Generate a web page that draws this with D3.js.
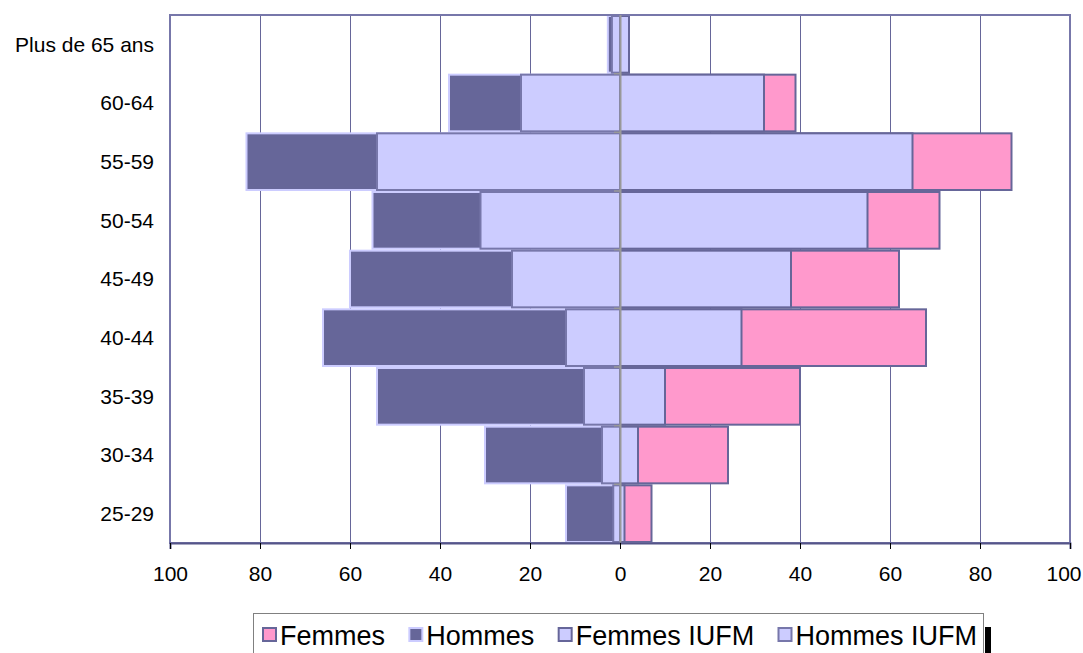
<!DOCTYPE html>
<html>
<head>
<meta charset="utf-8">
<script src="https://cdn.jsdelivr.net/npm/d3@7"></script>
<style>
  body { margin: 0; background: #fff; overflow: hidden; }
  text { font-family: "Liberation Sans", Arial, sans-serif; }
</style>
</head>
<body>
<div id="chart-area"></div>
<script>
var width = 1083,
    height = 653;

// age groups, bottom to top
var categories = ["25-29", "30-34", "35-39", "40-44", "45-49", "50-54", "55-59", "60-64", "Plus de 65 ans"];
var femmes     = [7, 24, 40, 68, 62, 71, 87, 39, 2];
var hommes     = [12, 30, 54, 66, 60, 55, 83, 38, 2.7];
var femmesIufm = [1, 4, 10, 27, 38, 55, 65, 32, 2];
var hommesIufm = [1.5, 4, 8, 12, 24, 31, 54, 22, 1.8];
var ticks = [-100, -80, -60, -40, -20, 0, 20, 40, 60, 80, 100];

var series = [
    { name: "Femmes",       values: femmes,     side: 1,  fill: "#ff99cc", stroke: "#666699" },
    { name: "Hommes",       values: hommes,     side: -1, fill: "#666699", stroke: "#ccccff" },
    { name: "Femmes IUFM",  values: femmesIufm, side: 1,  fill: "#ccccff", stroke: "#666699" },
    { name: "Hommes IUFM",  values: hommesIufm, side: -1, fill: "#ccccff", stroke: "#7777aa" }
];

var plotLeft = 170, plotRight = 1070, plotTop = 15, plotBottom = 543;

var x = d3.scaleLinear().domain([-100, 100]).range([plotLeft, plotRight]);
var y = d3.scaleBand().domain(categories.slice().reverse()).range([plotTop, plotBottom]).padding(0);

var svg = d3.select("#chart-area")
    .append("svg")
        .attr("width", width)
        .attr("height", height);

// vertical gridlines
svg.append("g")
    .selectAll("line")
    .data(ticks.filter(function(t) { return Math.abs(t) < 100; }))
    .enter().append("line")
        .attr("x1", function(d) { return x(d) + 0.5; })
        .attr("x2", function(d) { return x(d) + 0.5; })
        .attr("y1", plotTop)
        .attr("y2", plotBottom)
        .attr("stroke", "#666699")
        .attr("stroke-width", 1);

// bars
series.forEach(function(s) {
    svg.append("g")
        .selectAll("rect")
        .data(s.values.map(function(v, i) { return { cat: categories[i], v: v }; }))
        .enter().append("rect")
            .attr("x", function(d) { return s.side > 0 ? x(0) : x(-d.v); })
            .attr("width", function(d) { return Math.abs(x(d.v) - x(0)); })
            .attr("y", function(d) { return y(d.cat) + 1; })
            .attr("height", y.bandwidth() - 2)
            .attr("fill", s.fill)
            .attr("stroke", s.stroke)
            .attr("stroke-width", 2);
});

// plot border
svg.append("rect")
    .attr("x", plotLeft)
    .attr("y", plotTop)
    .attr("width", plotRight - plotLeft)
    .attr("height", plotBottom - plotTop)
    .attr("fill", "none")
    .attr("stroke", "#7777aa")
    .attr("stroke-width", 2);

// zero axis with small ticks
var zero = svg.append("g");
zero.append("line")
    .attr("x1", x(0) + 0.5).attr("x2", x(0) + 0.5)
    .attr("y1", plotTop).attr("y2", plotBottom)
    .attr("stroke", "#999999")
    .attr("stroke-width", 2);
zero.selectAll(".tk")
    .data(categories.slice(1))
    .enter().append("line")
        .attr("class", "tk")
        .attr("x1", x(0) - 6).attr("x2", x(0))
        .attr("y1", function(d) { return y(d) + y.bandwidth(); })
        .attr("y2", function(d) { return y(d) + y.bandwidth(); })
        .attr("stroke", "#999999")
        .attr("stroke-width", 1.5);

// category labels
svg.append("g")
    .selectAll("text")
    .data(categories)
    .enter().append("text")
        .attr("x", 154)
        .attr("y", function(d) { return y(d) + y.bandwidth() / 2; })
        .attr("dy", ".35em")
        .attr("text-anchor", "end")
        .style("font-size", "21px")
        .attr("fill", "#000")
        .text(function(d) { return d; });

// bottom axis
var xAxis = d3.axisBottom(x)
    .tickValues(ticks)
    .tickSize(6)
    .tickPadding(17)
    .tickFormat(function(d) { return Math.abs(d); });

var ax = svg.append("g")
    .attr("transform", "translate(0," + plotBottom + ")")
    .call(xAxis);
ax.select(".domain").attr("stroke", "#555588").attr("stroke-width", 2);
ax.selectAll(".tick line").attr("stroke", "#000");
ax.selectAll(".tick text")
    .style("font-size", "21px")
    .style("font-family", "'Liberation Sans', Arial, sans-serif")
    .attr("fill", "#000");
// keep the last label inside the page
ax.selectAll(".tick text")
    .filter(function(d) { return d === 100; })
    .attr("text-anchor", "end")
    .attr("x", 11);

// legend
var legend = svg.append("g");
legend.append("rect")
    .attr("x", 985).attr("y", 627)
    .attr("width", 6).attr("height", 30)
    .attr("fill", "#000");
legend.append("rect")
    .attr("x", 253.5).attr("y", 613.5)
    .attr("width", 730).attr("height", 50)
    .attr("fill", "#fff")
    .attr("stroke", "#808080")
    .attr("stroke-width", 1);

var item = legend.selectAll(".item")
    .data(series)
    .enter().append("g")
        .attr("class", "item");
item.append("rect")
    .attr("x", 1).attr("y", 628)
    .attr("width", 13).attr("height", 13)
    .attr("fill", function(d) { return d.fill; })
    .attr("stroke", function(d) { return d.stroke; })
    .attr("stroke-width", 2);
item.append("text")
    .attr("x", 18)
    .attr("y", 645)
    .style("font-size", "27px")
    .attr("fill", "#000")
    .text(function(d) { return d.name; });

// spread entries between the left swatch and the shadow bar
var lens = [];
item.select("text").each(function() { lens.push(this.getComputedTextLength()); });
var startX = 262, endX = 977;
var used = d3.sum(lens) + lens.length * 18;
var gap = (endX - startX - used) / (lens.length - 1);
var pos = startX;
item.attr("transform", function(d, i) {
    var t = "translate(" + pos + ",0)";
    pos += 18 + lens[i] + gap;
    return t;
});
</script>
</body>
</html>
